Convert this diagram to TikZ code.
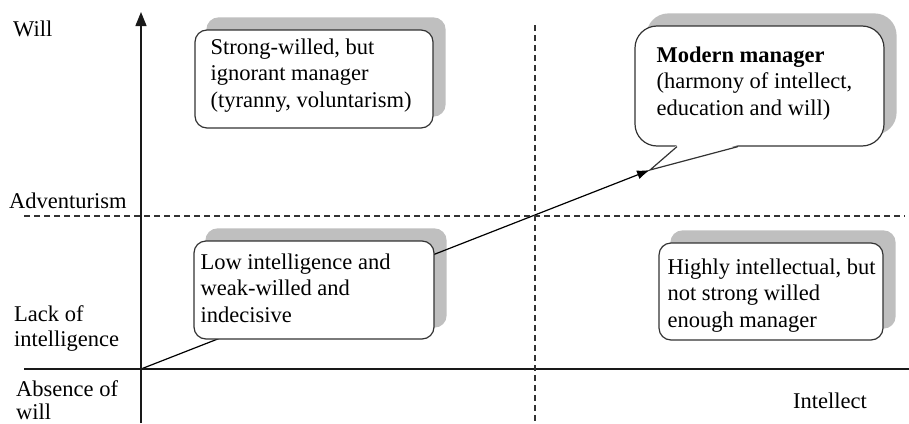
\documentclass[tikz,border=0pt]{standalone}
\usepackage{fontspec}
\setmainfont{Liberation Serif}
\usetikzlibrary{arrows.meta,positioning}
\pgfdeclarelayer{back}
\pgfdeclarelayer{mid}
\pgfsetlayers{back,mid,main}

\begin{document}
\begin{tikzpicture}[x=1pt, y=-1pt, every node/.style={font=\fontsize{22.5}{26.5}\selectfont, inner sep=0pt}, quad/.style={draw=black!80, line width=1.2pt, fill=white, rounded corners=12pt}, txt/.style={align=left, anchor=north west}, axis/.style={line width=1.3pt, black!90}, guide/.style={line width=1.1pt, black!80, dash pattern=on 6pt off 4pt}, arrow/.style={-{Latex[length=13pt,width=9pt]}, line width=1.2pt}]
    \useasboundingbox (0,0) rectangle (909,423);
    % axes and guide lines
    \coordinate (o) at (141,369);
    \coordinate (tip) at (650,170);
    \draw[axis, -{Triangle[length=14pt,width=11pt]}] (141,423) -- (141,12);
    \draw[axis] (24,369) -- (909,369);
    \draw[guide] (24,216) -- (905,216);
    \draw[guide] (535,25) -- (535,423);
    % quadrant boxes
    \node[quad, minimum width=238pt, minimum height=98pt] (tyrant) at (314,79) {};
    \node[quad, minimum width=249pt, minimum height=120pt, rounded corners=22pt] (leader) at (759.5,86) {};
    \node[quad, minimum width=240pt, minimum height=98pt] (weak) at (314,290) {};
    \node[quad, minimum width=224pt, minimum height=97pt] (thinker) at (771,291.5) {};
    \begin{pgfonlayer}{back}
      \foreach \b in {tyrant,weak,thinker}
        \fill[gray!50, rounded corners=12pt] ([shift={(12,-12)}]\b.south west) rectangle ([shift={(12,-12)}]\b.north east);
      \fill[gray!50, rounded corners=22pt] ([shift={(12,-12)}]leader.south west) rectangle ([shift={(12,-12)}]leader.north east);
    \end{pgfonlayer}
    \begin{pgfonlayer}{mid}
      \draw[arrow] (o) -- (tip);
    \end{pgfonlayer}
    % callout pointer
    \fill[white] ([shift={(-82.5,-1.5)}]leader.south) -- (tip) -- ([shift={(-21.5,-1.5)}]leader.south) -- cycle;
    \draw[draw=black!80, line width=1.2pt] ([xshift=-82.5pt]leader.south) -- (tip) -- ([xshift=-21.5pt]leader.south);
    % box texts
    \node[txt] (tyrant-text) at ([shift={(16,9)}]tyrant.north west) {Strong-willed, but\\ignorant manager\\(tyranny, voluntarism)};
    \node[txt] (leader-text) at ([shift={(22,21)}]leader.north west) {\textbf{Modern manager}\\(harmony of intellect,\\education and will)};
    \node[txt] (weak-text) at ([shift={(7,13)}]weak.north west) {Low intelligence and\\weak-willed and\\indecisive};
    \node[txt] (thinker-text) at ([shift={(9,16)}]thinker.north west) {Highly intellectual, but\\not strong willed\\enough manager};
    % axis labels
    \node[anchor=base west] (will) at (13,36) {Will};
    \node[anchor=base west] (adventurism) at (9,208) {Adventurism};
    \node[txt] (lack) at (14,305) {Lack of\\[-1.5pt]intelligence};
    \node[txt] (absence) at (16,380) {Absence of\\[-3.5pt]will};
    \node[anchor=base west] (intellect) at (793,408) {Intellect};
\end{tikzpicture}
\end{document}
